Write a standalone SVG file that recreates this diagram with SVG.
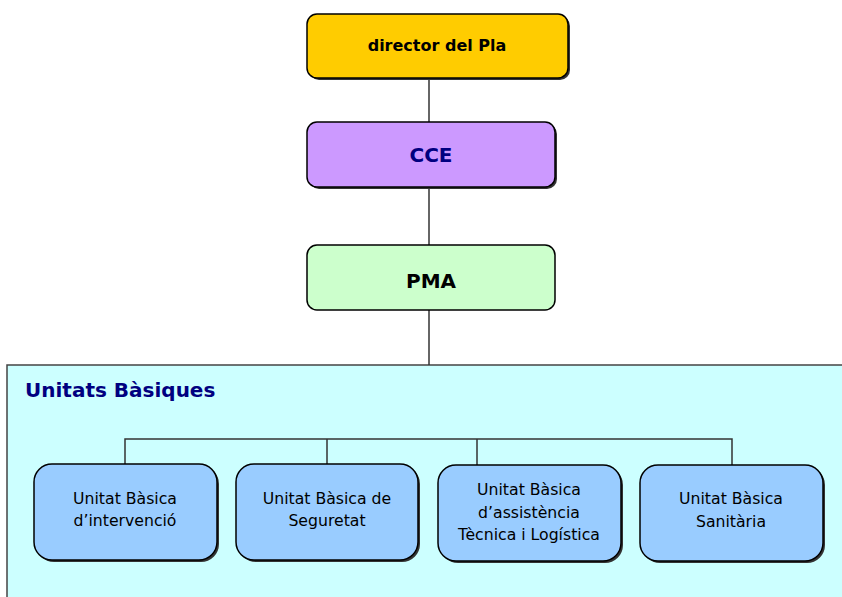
<svg xmlns="http://www.w3.org/2000/svg" width="842" height="597" viewBox="0 0 842 597">
<style>
.node{stroke:#000;stroke-width:1.5}
.shadow{fill:#333}
.lbl{font-family:"DejaVu Sans","Liberation Sans",sans-serif;text-anchor:middle}
.b{font-weight:bold}
.unit{font-size:15.7px;fill:#000}
.conn{stroke:#333;stroke-width:1.5;fill:none}
</style>
<rect x="0" y="0" width="842" height="597" fill="#fff"/>
<g id="container">
<rect x="7" y="365" width="840" height="240" fill="#CCFFFF" stroke="#444" stroke-width="1.5"/>
<text x="25" y="397" font-family="DejaVu Sans, Liberation Sans, sans-serif" font-weight="bold" font-size="20" fill="#000080">Unitats Bàsiques</text>
</g>
<g id="connectors">
<line class="conn" x1="429" y1="78" x2="429" y2="122"/>
<line class="conn" x1="429" y1="187" x2="429" y2="245"/>
<line class="conn" x1="429" y1="310" x2="429" y2="365"/>
<polyline class="conn" points="125,464 125,439 732,439 732,465"/>
<line class="conn" x1="327" y1="439" x2="327" y2="464"/>
<line class="conn" x1="477" y1="439" x2="477" y2="465"/>
</g>
<g id="director">
<rect class="shadow" x="309" y="16" width="261" height="64" rx="10"/>
<rect class="node" x="307" y="14" width="261" height="64" rx="10" fill="#FFCC00"/>
<text class="lbl b" x="437" y="51" font-size="16">director del Pla</text>
</g>
<g id="cce">
<rect class="shadow" x="309" y="124" width="248" height="65" rx="10"/>
<rect class="node" x="307" y="122" width="248" height="65" rx="10" fill="#CC99FF"/>
<text class="lbl b" x="431" y="162" font-size="20" fill="#000080">CCE</text>
</g>
<g id="pma">
<rect class="node" x="307" y="245" width="248" height="65" rx="10" fill="#CCFFCC"/>
<text class="lbl b" x="431" y="288" font-size="20" fill="#000">PMA</text>
</g>
<g id="ub1">
<rect class="shadow" x="36" y="466" width="183" height="96" rx="18"/>
<rect class="node" x="34" y="464" width="183" height="96" rx="18" fill="#99CCFF"/>
<text class="lbl unit" x="125" y="504">Unitat Bàsica</text>
<text class="lbl unit" x="125" y="526">d’intervenció</text>
</g>
<g id="ub2">
<rect class="shadow" x="238" y="466" width="182" height="96" rx="18"/>
<rect class="node" x="236" y="464" width="182" height="96" rx="18" fill="#99CCFF"/>
<text class="lbl unit" x="327" y="504">Unitat Bàsica de</text>
<text class="lbl unit" x="327" y="526">Seguretat</text>
</g>
<g id="ub3">
<rect class="shadow" x="440" y="467" width="183" height="96" rx="18"/>
<rect class="node" x="438" y="465" width="183" height="96" rx="18" fill="#99CCFF"/>
<text class="lbl unit" x="529" y="495">Unitat Bàsica</text>
<text class="lbl unit" x="529" y="518">d’assistència</text>
<text class="lbl unit" x="529" y="540">Tècnica i Logística</text>
</g>
<g id="ub4">
<rect class="shadow" x="642" y="467" width="183" height="96" rx="18"/>
<rect class="node" x="640" y="465" width="183" height="96" rx="18" fill="#99CCFF"/>
<text class="lbl unit" x="731" y="504">Unitat Bàsica</text>
<text class="lbl unit" x="731" y="527">Sanitària</text>
</g>
</svg>
